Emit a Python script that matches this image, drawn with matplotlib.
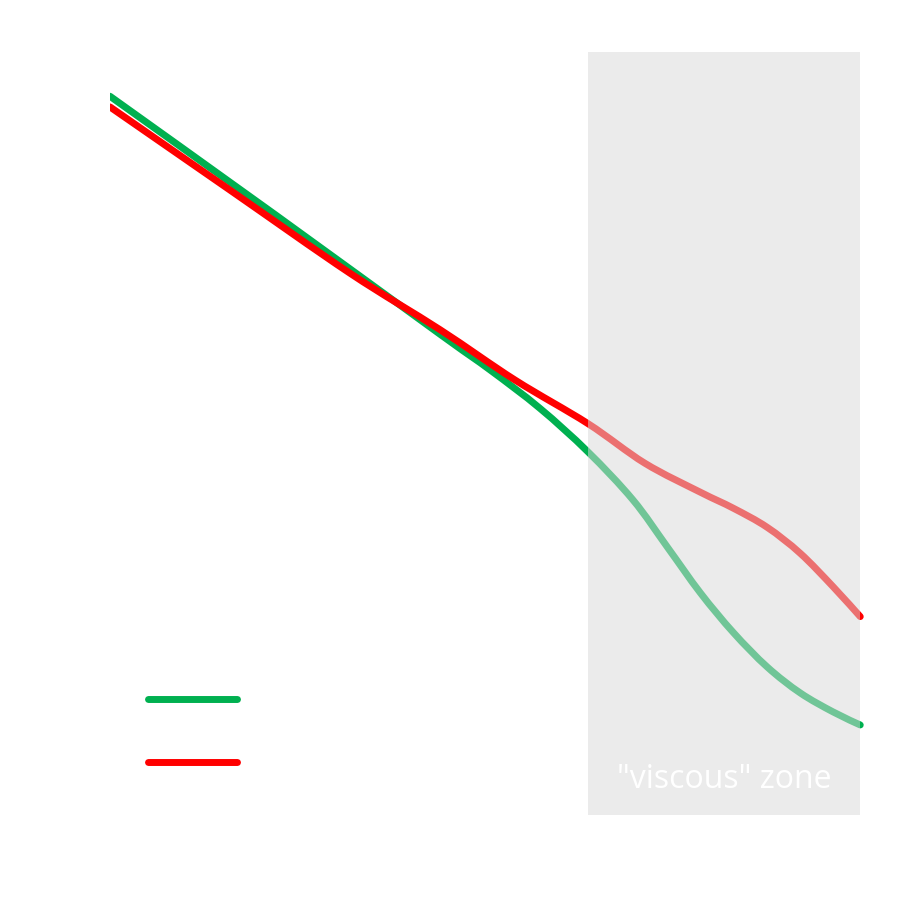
import numpy as np
import matplotlib.pyplot as plt
from matplotlib.path import Path
from matplotlib.patches import PathPatch
from matplotlib.lines import Line2D

# values (arbitrary units, x 0..10, y 0..10)
green_x = [0, 2.2, 4.4, 5.07, 5.73, 6.37, 6.97, 7.43, 7.87, 8.31, 8.76, 9.2, 9.64, 10]
green_y = [9.42, 7.87, 6.30, 5.83, 5.33, 4.76, 4.13, 3.51, 2.91, 2.39, 1.94, 1.60, 1.35, 1.18]

red_x = [0, 1.6, 3.2, 4.4, 5.4, 6.37, 7.13, 7.87, 8.31, 8.76, 9.2, 9.64, 10]
red_y = [9.28, 8.19, 7.10, 6.36, 5.70, 5.13, 4.61, 4.23, 4.02, 3.77, 3.43, 2.99, 2.60]

zone_start, zone_end = 6.37, 10
zone_label = '"viscous" zone'
legend_labels = [" ", " "]
green = "#00B050"
red = "#FF0000"


def smooth_path(xs, ys):
    # smoothed line like the spreadsheet one: Catmull-Rom as cubic Bezier
    p = np.column_stack([xs, ys]).astype(float)
    p = np.vstack([p[0], p, p[-1]])
    verts = [p[1]]
    codes = [Path.MOVETO]
    for i in range(1, len(p) - 2):
        c1 = p[i] + (p[i + 1] - p[i - 1]) / 6
        c2 = p[i + 1] - (p[i + 2] - p[i]) / 6
        verts += [c1, c2, p[i + 1]]
        codes += [Path.CURVE4] * 3
    return Path(verts, codes)


fig = plt.figure(figsize=(9.09, 9.0), dpi=100)
ax = fig.add_axes([110 / 909, 85 / 900, 754 / 909, 763 / 900])

for xs, ys, c in [(green_x, green_y, green), (red_x, red_y, red)]:
    ax.add_patch(PathPatch(smooth_path(xs, ys), fill=False, edgecolor=c, lw=5,
                           capstyle="round", joinstyle="round", zorder=2))

# translucent grey overlay fades the curves inside the zone
ax.axvspan(zone_start, zone_end, color=(217 / 255, 217 / 255, 217 / 255),
           alpha=0.52, lw=0, zorder=3)
ax.text((zone_start + zone_end) / 2, 0.47, zone_label, color="white",
        fontsize=23, family="Open Sans", ha="center", va="center", zorder=4)

handles = [Line2D([], [], color=green, lw=5, solid_capstyle="round"),
           Line2D([], [], color=red, lw=5, solid_capstyle="round")]
leg = ax.legend(handles, legend_labels, loc="upper left", frameon=False,
                bbox_to_anchor=(148 / 909, 1 - 687 / 900), bbox_transform=fig.transFigure,
                fontsize=20, handlelength=3.2, borderpad=0, borderaxespad=0,
                labelspacing=1.25, handletextpad=0.5)
for t in leg.get_texts():
    t.set_color("white")

ax.set_xlim(0, 10.05)
ax.set_ylim(0, 10)
ax.set_xticks([])
ax.set_yticks([])
for s in ax.spines.values():
    s.set_visible(False)

fig.savefig("out.png", dpi=100)
